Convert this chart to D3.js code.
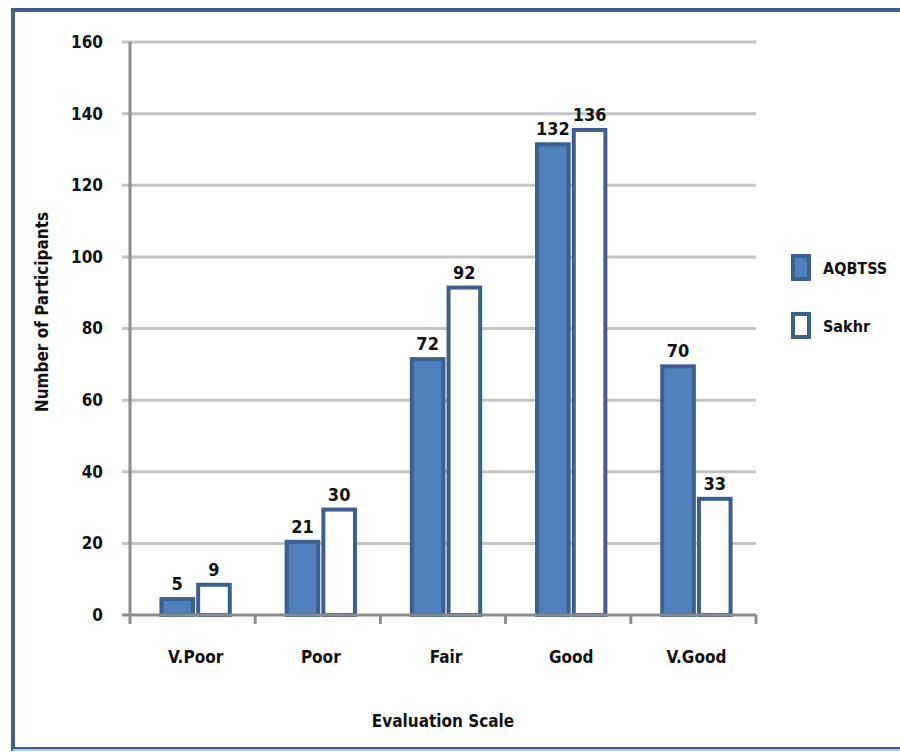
<!DOCTYPE html>
<html>
<head>
<meta charset="utf-8">
<script src="https://cdn.jsdelivr.net/npm/d3@7"></script>
<style>
  html, body { margin: 0; padding: 0; background: #fff; }
  svg { display: block; }
  text { font-family: "Liberation Sans Narrow", "DejaVu Sans Condensed", "Liberation Sans", sans-serif; font-weight: bold; fill: #111; }
</style>
</head>
<body>
<svg id="chart" width="900" height="752"></svg>
<script>
// Participant ratings of two systems across the evaluation scale
const categories = ["V.Poor", "Poor", "Fair", "Good", "V.Good"];
const seriesNames = ["AQBTSS", "Sakhr"];
const aqbtss = [5, 21, 72, 132, 70];
const sakhr = [9, 30, 92, 136, 33];
const yTicks = [0, 20, 40, 60, 80, 100, 120, 140, 160];

const seriesValues = [aqbtss, sakhr];
const fills = ["#4f81bd", "#ffffff"];
const strokeColor = "#3b5f8f";

const svg = d3.select("#chart");

// outer frame
svg.append("rect")
  .attr("x", 13).attr("y", 10).attr("width", 900).attr("height", 739)
  .attr("fill", "none").attr("stroke", "#3d6090").attr("stroke-width", 4);
svg.append("line")
  .attr("x1", 13).attr("x2", 900).attr("y1", 750).attr("y2", 750)
  .attr("stroke", "#b9ccd8").attr("stroke-width", 2);

const margin = { left: 130, right: 756, top: 42, bottom: 615 };

const x = d3.scaleBand().domain(categories).range([margin.left, margin.right]);
const groupShift = 3;
const xInner = d3.scaleBand().domain(seriesNames)
  .range([groupShift, x.bandwidth() + groupShift])
  .paddingOuter(0.72).paddingInner(0.03);
const y = d3.scaleLinear().domain([0, 160]).range([margin.bottom, margin.top]);

// horizontal gridlines
svg.append("g")
  .selectAll("line")
  .data(yTicks.filter(d => d > 0))
  .join("line")
  .attr("x1", margin.left - 8).attr("x2", margin.right)
  .attr("y1", d => y(d)).attr("y2", d => y(d))
  .attr("stroke", "#c4c4c4").attr("stroke-width", 3);

// y tick labels
svg.append("g")
  .selectAll("text")
  .data(yTicks)
  .join("text")
  .attr("x", 103).attr("y", d => y(d))
  .attr("dy", "0.35em")
  .attr("text-anchor", "end")
  .attr("font-size", 17)
  .text(d => d);

// bars
const groups = svg.append("g")
  .selectAll("g")
  .data(categories)
  .join("g")
  .attr("transform", d => `translate(${x(d)},0)`);

groups.selectAll("rect")
  .data((c, i) => seriesNames.map((s, j) => ({ s, j, v: seriesValues[j][i] })))
  .join("rect")
  .attr("x", d => xInner(d.s) + 2)
  .attr("width", xInner.bandwidth() - 4)
  .attr("y", d => y(d.v) + 2)
  .attr("height", d => Math.max(0, y(0) - y(d.v) - 2))
  .attr("fill", d => fills[d.j])
  .attr("stroke", strokeColor)
  .attr("stroke-width", 4);

// value labels
groups.selectAll("text")
  .data((c, i) => seriesNames.map((s, j) => ({ s, j, v: seriesValues[j][i] })))
  .join("text")
  .attr("x", d => xInner(d.s) + xInner.bandwidth() / 2)
  .attr("y", d => y(d.v) - 7)
  .attr("text-anchor", "middle")
  .attr("font-size", 18)
  .text(d => d.v);

// axes lines
svg.append("line")
  .attr("x1", margin.left).attr("x2", margin.left)
  .attr("y1", margin.top).attr("y2", margin.bottom + 9)
  .attr("stroke", "#8c8c8c").attr("stroke-width", 3);
svg.append("line")
  .attr("x1", margin.left - 8).attr("x2", margin.right)
  .attr("y1", margin.bottom).attr("y2", margin.bottom)
  .attr("stroke", "#8c8c8c").attr("stroke-width", 3);

// category boundary ticks
svg.append("g")
  .selectAll("line")
  .data(categories)
  .join("line")
  .attr("x1", d => x(d) + x.bandwidth())
  .attr("x2", d => x(d) + x.bandwidth())
  .attr("y1", margin.bottom).attr("y2", margin.bottom + 9)
  .attr("stroke", "#8c8c8c").attr("stroke-width", 3);

// category labels
svg.append("g")
  .selectAll("text")
  .data(categories)
  .join("text")
  .attr("x", d => x(d) + x.bandwidth() / 2 + groupShift)
  .attr("y", 663)
  .attr("text-anchor", "middle")
  .attr("font-size", 17)
  .text(d => d);

// axis titles
svg.append("text")
  .attr("x", 443).attr("y", 727)
  .attr("text-anchor", "middle")
  .attr("font-size", 17)
  .text("Evaluation Scale");

svg.append("text")
  .attr("transform", "translate(48,312) rotate(-90)")
  .attr("text-anchor", "middle")
  .attr("font-size", 17)
  .text("Number of Participants");

// legend
const legend = svg.append("g")
  .selectAll("g")
  .data(seriesNames)
  .join("g")
  .attr("transform", (d, i) => `translate(793,${256 + i * 58})`);

legend.append("rect")
  .attr("width", 16).attr("height", 23)
  .attr("fill", (d, i) => fills[i])
  .attr("stroke", strokeColor).attr("stroke-width", 4);

legend.append("text")
  .attr("x", 30).attr("y", 12)
  .attr("dy", "0.35em")
  .attr("font-size", 16)
  .text(d => d);
</script>
</body>
</html>
